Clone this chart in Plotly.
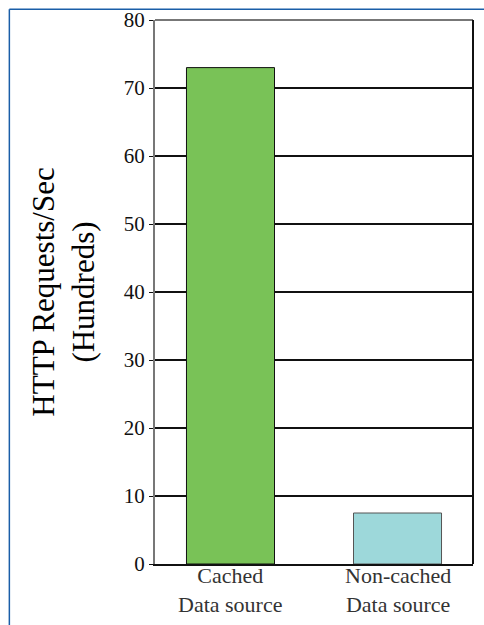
import plotly.graph_objects as go

# Throughput comparison, in hundreds of HTTP requests per second
categories = ["Cached", "Non-cached"]
category_sublabels = ["Data source", "Data source"]
requests_hundreds = [73, 7.5]
bar_colors = ["#79c257", "#9dd8da"]
bar_edges = ["#111111", "#555555"]
y_ticks = [0, 10, 20, 30, 40, 50, 60, 70, 80]

SERIF = "'Liberation Serif', 'Times New Roman', serif"

fig = go.Figure(
    go.Bar(
        x=categories,
        y=requests_hundreds,
        width=0.527,
        marker=dict(color=bar_colors, line=dict(color=bar_edges, width=1)),
    )
)

fig.update_layout(
    template="none",
    width=484,
    height=625,
    margin=dict(l=155, r=11, t=20, b=61),
    paper_bgcolor="white",
    plot_bgcolor="white",
    showlegend=False,
    font=dict(family=SERIF, color="#000000"),
    xaxis=dict(
        type="category",
        range=[-0.452, 1.452],
        showgrid=False,
        showline=True,
        linecolor="#111111",
        linewidth=2,
        ticks="",
        showticklabels=False,
        automargin=False,
        fixedrange=True,
    ),
    yaxis=dict(
        range=[0, 80],
        tickvals=y_ticks,
        showgrid=True,
        gridcolor="#111111",
        gridwidth=2,
        zeroline=False,
        showline=True,
        linecolor="#777777",
        linewidth=2,
        ticks="outside",
        ticklen=4,
        tickcolor="#111111",
        tickfont=dict(family=SERIF, size=21, color="#111111"),
        title=dict(
            text="HTTP Requests/Sec<br>(Hundreds)",
            font=dict(family=SERIF, size=31, color="#000000"),
            standoff=20,
        ),
        automargin=False,
        fixedrange=True,
    ),
)

# Two-line category labels under each bar
for name, sub in zip(categories, category_sublabels):
    fig.add_annotation(x=name, xref="x", y=-0.0487, yref="paper",
                       text=f"{name}<br>{sub}",
                       showarrow=False, xanchor="center", yanchor="middle",
                       font=dict(family=SERIF, size=22, color="#333333"))

# Plot frame: gray top edge, black right edge
fig.add_shape(type="line", xref="paper", yref="paper", x0=0, x1=1, y0=1, y1=1,
              line=dict(color="#777777", width=2), layer="above")
fig.add_shape(type="line", xref="paper", yref="paper", x0=1, x1=1, y0=0, y1=1,
              line=dict(color="#111111", width=2), layer="above")

# Blue page rule along the top and left edges
fig.add_shape(type="line", xref="paper", yref="paper",
              x0=-0.458, x1=1.1, y0=1.0197, y1=1.0197,
              line=dict(color="#1a5ea8", width=1.5), layer="above")
fig.add_shape(type="line", xref="paper", yref="paper",
              x0=-0.458, x1=-0.458, y0=-0.2, y1=1.0197,
              line=dict(color="#1a5ea8", width=1.5), layer="above")

fig.write_html("out.html")
